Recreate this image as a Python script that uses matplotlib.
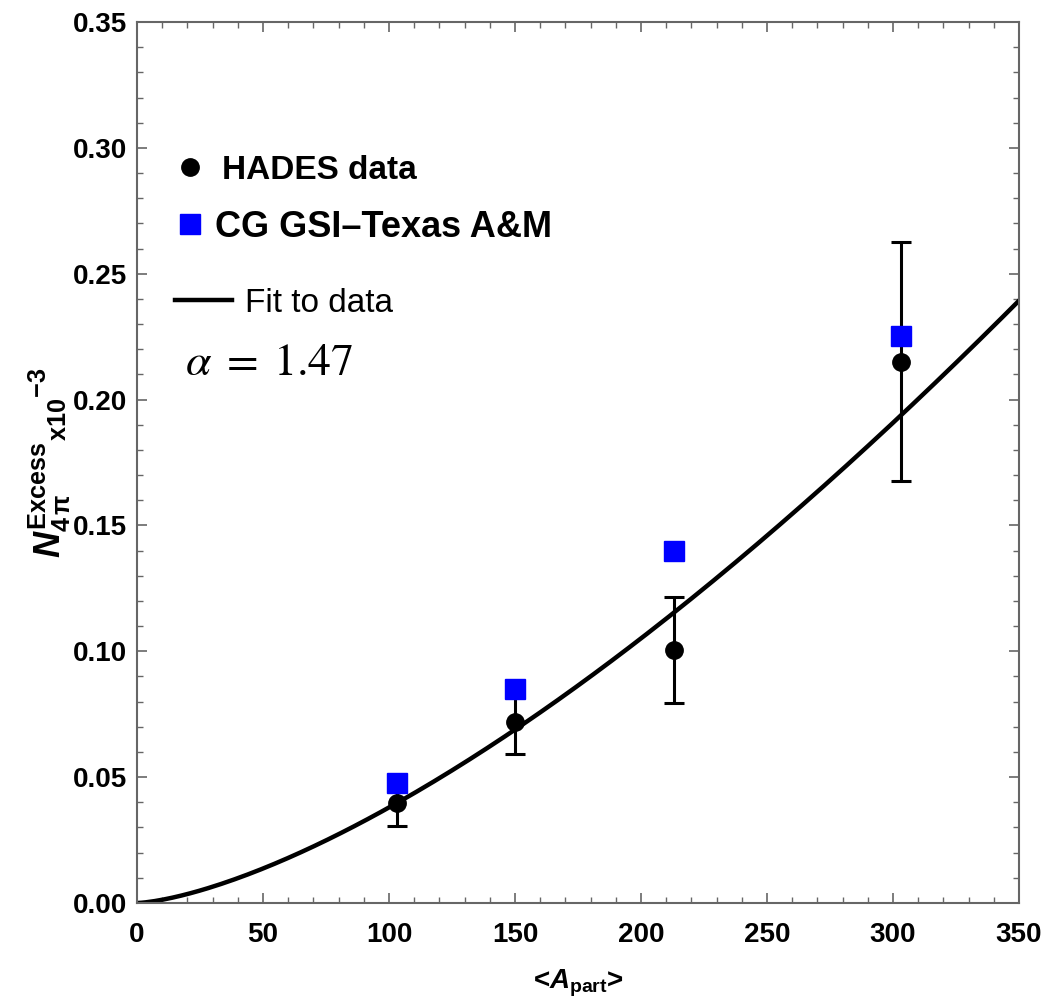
import numpy as np
import matplotlib
matplotlib.use('Agg')
import matplotlib.pyplot as plt
from matplotlib.lines import Line2D
from matplotlib.ticker import MultipleLocator, FormatStrFormatter

plt.rcParams['font.family'] = ['Liberation Sans', 'DejaVu Sans']
plt.rcParams['mathtext.fontset'] = 'custom'
plt.rcParams['mathtext.rm'] = 'Liberation Sans:bold'
plt.rcParams['mathtext.bf'] = 'Liberation Sans:bold'
plt.rcParams['mathtext.it'] = 'Liberation Sans:italic:bold'

# HADES measurements
hades_apart = [103, 150, 213, 303]
hades_excess = [0.0396, 0.0720, 0.1005, 0.2150]
hades_err = [0.0090, 0.0130, 0.0212, 0.0475]

# coarse-grained GSI-Texas A&M calculation
cg_apart = [103, 150, 213, 303]
cg_excess = [0.0478, 0.0849, 0.1400, 0.2253]

# power-law fit y = scale * (A/350)^alpha
fit_alpha = 1.47
fit_scale = 0.2393
fit_apart = np.linspace(0, 350, 200)


def main():
    fig = plt.figure(figsize=(10.48, 10.01), dpi=100)
    ax = fig.add_axes([0.1307, 0.0979, 0.8416, 0.8801])

    fit_excess = fit_scale * (fit_apart / 350.0) ** fit_alpha
    ax.plot(fit_apart, fit_excess, color='black', lw=3.2, zorder=2)

    ax.errorbar(hades_apart, hades_excess, yerr=hades_err, fmt='o', color='black',
                markersize=12.5, elinewidth=2.2, capsize=7.5, capthick=2.2, zorder=3)
    ax.plot(cg_apart, cg_excess, 's', color='#0000ff', markersize=15, zorder=4)

    ax.set_xlim(0, 350)
    ax.set_ylim(0, 0.35)
    ax.xaxis.set_major_locator(MultipleLocator(50))
    ax.xaxis.set_minor_locator(MultipleLocator(10))
    ax.yaxis.set_major_locator(MultipleLocator(0.05))
    ax.yaxis.set_minor_locator(MultipleLocator(0.01))
    ax.yaxis.set_major_formatter(FormatStrFormatter('%.2f'))

    for sp in ax.spines.values():
        sp.set_color('#666666')
        sp.set_linewidth(1.5)
    ax.tick_params(which='both', direction='in', top=True, right=True, color='#666666')
    ax.tick_params(which='major', length=7, width=1.2)
    ax.tick_params(which='minor', length=4, width=1.0)
    ax.tick_params(axis='x', pad=14)
    ax.tick_params(axis='y', pad=7)
    for lab in ax.get_xticklabels() + ax.get_yticklabels():
        lab.set_fontsize(20)
        lab.set_fontweight('bold')

    ax.set_xlabel('<$\\mathit{A}_{\\mathrm{part}}$>', fontsize=20, fontweight='bold', labelpad=14)
    ax.set_ylabel('$\\mathit{N}_{\\mathrm{4\\,\u03c0}}^{\\mathrm{Excess}}{}_{\\mathrm{x10}}{}^{\\mathrm{\u22123}}$',
                  fontsize=26, labelpad=0)

    # legend entries, one legend per row
    leg1 = ax.legend([Line2D([], [], marker='o', color='black', ls='none', markersize=12.5)],
                     ['HADES data'], loc='center left', bbox_to_anchor=(0.0412, 0.832),
                     frameon=False, borderpad=0, borderaxespad=0, handlelength=1.0,
                     handletextpad=0.46, prop={'size': 24, 'weight': 'bold'})
    ax.add_artist(leg1)
    leg2 = ax.legend([Line2D([], [], marker='s', color='#0000ff', ls='none', markersize=15)],
                     ['CG GSI\u2013Texas A&M'], loc='center left', bbox_to_anchor=(0.0478, 0.767),
                     frameon=False, borderpad=0, borderaxespad=0, handlelength=0.6,
                     handletextpad=0.39, prop={'size': 26, 'weight': 'bold'})
    ax.add_artist(leg2)
    ax.legend([Line2D([], [], color='black', lw=3.2)], ['Fit to data'],
              loc='center left', bbox_to_anchor=(0.0431, 0.681),
              frameon=False, borderpad=0, borderaxespad=0, handlelength=1.71,
              handletextpad=0.39, prop={'size': 24})

    ax.text(0.0544, 0.613, '$\\alpha\\;=\\;1.47$', transform=ax.transAxes, fontsize=33,
            va='center', ha='left', math_fontfamily='stix')

    fig.savefig('out.png', dpi=100)


main()
